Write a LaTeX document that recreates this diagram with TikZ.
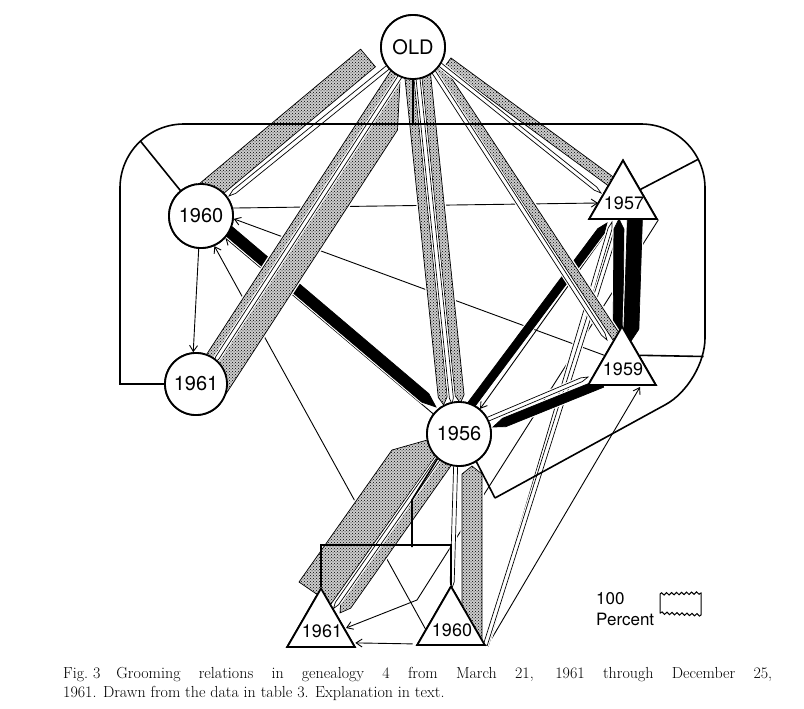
\documentclass[tikz,border=0pt]{standalone}
\usepackage{fontspec}
\newfontfamily\lett{TeX Gyre Heros}
\usetikzlibrary{calc,shapes.geometric,arrows.meta,decorations.pathmorphing,patterns}
\newcommand\bnd[4][]{%
 \coordinate (bA) at (#2); \coordinate (bB) at (#3);
 \path[#1] ($(bA)!#4pt!90:(bB)$) -- ($(bB)!#4pt!-90:(bA)$) -- ($(bB)!#4pt!90:(bA)$) -- ($(bA)!#4pt!-90:(bB)$) -- cycle;}
\newcommand\bndp[5][]{%
 \coordinate (bA) at (#2); \coordinate (bB) at (#3);
 \coordinate (bT) at ($(bB)!#5pt!(bA)$);
 \path[#1] ($(bA)!#4pt!90:(bB)$) -- ($(bT)!#4pt!-90:(bA)$) -- (bB) -- ($(bT)!#4pt!90:(bA)$) -- ($(bA)!#4pt!-90:(bB)$) -- cycle;}
\tikzset{
 cnode/.style={circle, draw, line width=1.8pt, fill=white, minimum size=64pt, inner sep=0pt, font=\lett\fontsize{20}{20}\selectfont},
 tnode/.style={regular polygon, regular polygon sides=3, draw, line width=1.8pt, fill=white, minimum size=78pt, inner sep=0pt},
 tlab/.style={inner sep=0pt, font=\lett\fontsize{18}{18}\selectfont},
 thinln/.style={line width=0.9pt},
 arr/.style={thinln, -{Straight Barb[length=6pt,width=8pt]}},
 stip/.style={draw=black, line width=0.7pt, fill=black!20, postaction={pattern=crosshatch dots}, preaction={draw=white,line width=3.5pt}},
 blk/.style={draw=black, line width=0.7pt, fill=black, preaction={draw=white,line width=3pt}},
 hol/.style={draw=black, line width=0.7pt, fill=white, preaction={draw=white,line width=3pt}},
 loopln/.style={line width=1.6pt},
 legtxt/.style={anchor=base west, inner sep=0pt, font=\lett\fontsize{17}{17}\selectfont},
}
\begin{document}
\begin{tikzpicture}[x=1pt,y=-1pt]
\useasboundingbox (0,0) rectangle (804,709);
\fill[white] (0,0) rectangle (804,709);
% node positions
\path (413,47) coordinate (pOLD) (201,216) coordinate (p1960) (196,384) coordinate (p1961)
      (459,434) coordinate (p1956) (623,199.5) coordinate (p1957) (622,365.5) coordinate (p1959)
      (321,627.5) coordinate (p1961b) (451,625.5) coordinate (p1960b);
\path (pOLD) node[cnode] (OLD) {}; \path (p1960) node[cnode] (c1960) {};
\path (p1961) node[cnode, minimum size=62pt] (c1961) {}; \path (p1956) node[cnode] (c1956) {};
\path (p1957) node[tnode] (t1957) {}; \path (p1959) node[tnode] (t1959) {};
\path (p1961b) node[tnode] (t1961b) {}; \path (p1960b) node[tnode] (t1960b) {};
% thin lines
\draw[arr] (c1960.14) -- ($(t1957)+(-25,3.5)$);
\draw[arr] (c1960.266) -- (c1961.95);
\draw[arr] (t1959.side 1) -- (c1960.-5);
\draw[arr] (c1956.142) -- (c1960.-42);
\draw[arr] ($(t1960b)+(-25,4.5)$) -- (c1960.-66);
\draw[arr] ($(t1957)+(-12,26.5)$) -- (c1956.50);
\draw[arr] (t1957.corner 3) -- ($(t1960b)+(-34,-25.5)$) -- ($(t1961b)+(25,0.5)$);
\draw[arr] ($(t1960b.corner 2)+(-3,-2)$) -- ($(t1961b.corner 3)+(-1,-5)$);
\draw[arr] ($(t1960b.corner 3)+(1,0)$) -- ($(t1959)+(18,21.5)$);
% hollow lines crossing black bands
\bndp[hol]{$(t1960b.corner 3)$}{$(t1957)+(-11,22.5)$}{2}{7}
\bndp[hol]{$(t1960b.corner 3)+(-1,-1)$}{$(t1957)+(-4,22.5)$}{2}{7}
% black bands
\bndp[blk]{$(c1960)+(23,11)$}{$(c1956)+(-23,-27)$}{5.5}{14}
\bndp[blk]{$(c1956)+(6,-21)$}{$(t1957)+(-16,23.5)$}{4}{10}
\bndp[blk]{$(t1959)+(-20,17.5)$}{$(c1956)+(34,-7)$}{4.5}{12}
\bndp[blk]{$(t1959)+(-4,-20.5)$}{$(t1957)+(-4,19.5)$}{5}{10}
\bndp[blk]{$(t1957)+(12,15.5)$}{$(t1959)+(9,-24.5)$}{7.5}{12}
\bndp[hol]{$(c1956)+(27,-14)$}{$(t1959)+(-34,11.5)$}{2}{7}
% stippled bands with their hollow lines
\bnd[stip]{$(OLD)+(-45,11)$}{$(c1960)+(4,-22)$}{11.5}
\bndp[hol]{$(OLD)+(-21,17)$}{$(c1960)+(28,-20)$}{2.2}{7}
\bnd[stip]{$(OLD)+(-14.6,20.3)$}{$(c1961)+(13,-25)$}{4.5}
\path[stip] ($(OLD)+(-13,34)$) -- ($(OLD)+(-15.5,83)$) -- ($(c1961)+(26,16)$) -- ($(c1961)+(19.6,-20)$) -- cycle;
\bndp[hol]{$(OLD)+(-9.6,24.3)$}{$(c1961)+(18,-21)$}{2}{6}
\bndp[stip]{$(OLD)+(-4.5,22)$}{$(c1956)+(-15.4,-29.1)$}{4.5}{8}
\bndp[stip]{$(OLD)+(12.3,20.2)$}{$(c1956)+(1.4,-30.9)$}{4.5}{8}
\bndp[hol]{$(OLD)+(3.9,21.1)$}{$(c1956)+(-7,-30)$}{2}{6}
\bnd[stip]{$(OLD)+(23.7,16.8)$}{$(t1959)+(-5,-27.5)$}{4.5}
\bndp[hol]{$(OLD)+(17.9,20.6)$}{$(t1959)+(-15,-25.5)$}{2}{7}
\bnd[stip]{$(OLD)+(35,15)$}{$(t1957)+(-10,-16.5)$}{5}
\bndp[hol]{$(OLD)+(25,16)$}{$(t1957)+(-22,-6.5)$}{2}{7}
\path[stip] ($(c1956)+(-67,16)$) -- ($(c1956)+(-7,-1)$) -- ($(t1961b)+(10,-23.5)$) -- ($(t1961b)+(-22,-45.5)$) -- cycle;
\bndp[stip]{$(c1956)+(2.8,5.9)$}{$(t1961b)+(19,-14.6)$}{6}{10}
\bndp[hol]{$(c1956)+(-4,1)$}{$(t1961b)+(12.5,-19)$}{2}{6}
\bndp[stip]{$(t1960b)+(21,14.5)$}{$(c1956)+(13,32)$}{10}{8}
\bndp[hol]{$(c1956)+(-3,20)$}{$(t1960b)+(1,-37.5)$}{2}{6}
% loop
\coordinate (lpTL) at (120,124); \coordinate (lpTR) at (705,124);
\coordinate (lpBR) at (705,383); \coordinate (lpZ) at (495,498);
\draw[loopln] (c1961.west) -- (c1961.west -| lpTL) -- ($(lpTL)+(0,150)$);
\draw[loopln, rounded corners=64pt] ($(lpTL)+(0,150)$) -- (lpTL) -- (lpTR) -- ($(lpTR)+(0,150)$);
\draw[loopln, rounded corners=45pt] ($(lpTR)+(0,150)$) -- (lpBR) -- (lpZ);
\draw[loopln] (lpZ) -- (c1956.-58);
\coordinate (tk1) at (140.5,141.2); \coordinate (tk2) at (698,159.4); \coordinate (tk3) at (703.5,356.5);
\draw[loopln] (OLD.south) -- (OLD.south |- lpTL);
\draw[loopln] (c1960.129) -- (tk1);
\draw[loopln] (t1957.side 3) -- (tk2);
\draw[loopln] (t1959.side 3) -- (tk3);
% bottom bracket
\coordinate (brS) at (412,547); \coordinate (brM) at (412,500);
\draw[loopln] (t1961b.corner 1) -- ++(0,-41.5) -| (t1960b.corner 1);
\draw[loopln] (brS) -- (brM) -- (c1956.229);
% nodes on top
\node[cnode] (OLDt) at (pOLD) {OLD};
\node[cnode] (c1960t) at (p1960) {1960};
\node[cnode, minimum size=62pt] (c1961t) at (p1961) {1961};
\node[cnode] (c1956t) at (p1956) {1956};
\node[tnode] (t1957t) at (p1957) {};
\node[tnode] (t1959t) at (p1959) {};
\node[tnode] (t1961bt) at (p1961b) {};
\node[tnode] (t1960bt) at (p1960b) {};
\node[tlab] (lab1957) at ($(p1957)+(1,4)$) {1957};
\node[tlab] (lab1959) at ($(p1959)+(1,4)$) {1959};
\node[tlab] (lab1961b) at ($(p1961b)+(1,4)$) {1961};
\node[tlab] (lab1960b) at ($(p1960b)+(1,5)$) {1960};
% legend
\node[legtxt] (l100) at (596,604) {100};
\node[legtxt] (lpct) at (596,625) {Percent};
\draw[line width=1pt] (660,594) decorate[decoration={snake,amplitude=1.2pt,segment length=5pt}] {-- (701,593)} -- (701,615) decorate[decoration={snake,amplitude=1.2pt,segment length=5pt}] {-- (660,613)} -- cycle;
% caption
\node[anchor=base west, inner sep=0pt] (cap) at (63,678) {\parbox[t]{709pt}{\fontsize{16}{19.5}\selectfont\addfontfeatures{FakeBold=0.4}\mbox{Fig.\ 3}\quad Grooming relations in genealogy 4 from March~21, 1961 through December 25,\linebreak 1961. Drawn from the data in table 3. Explanation in text.}};
\end{tikzpicture}
\end{document}
